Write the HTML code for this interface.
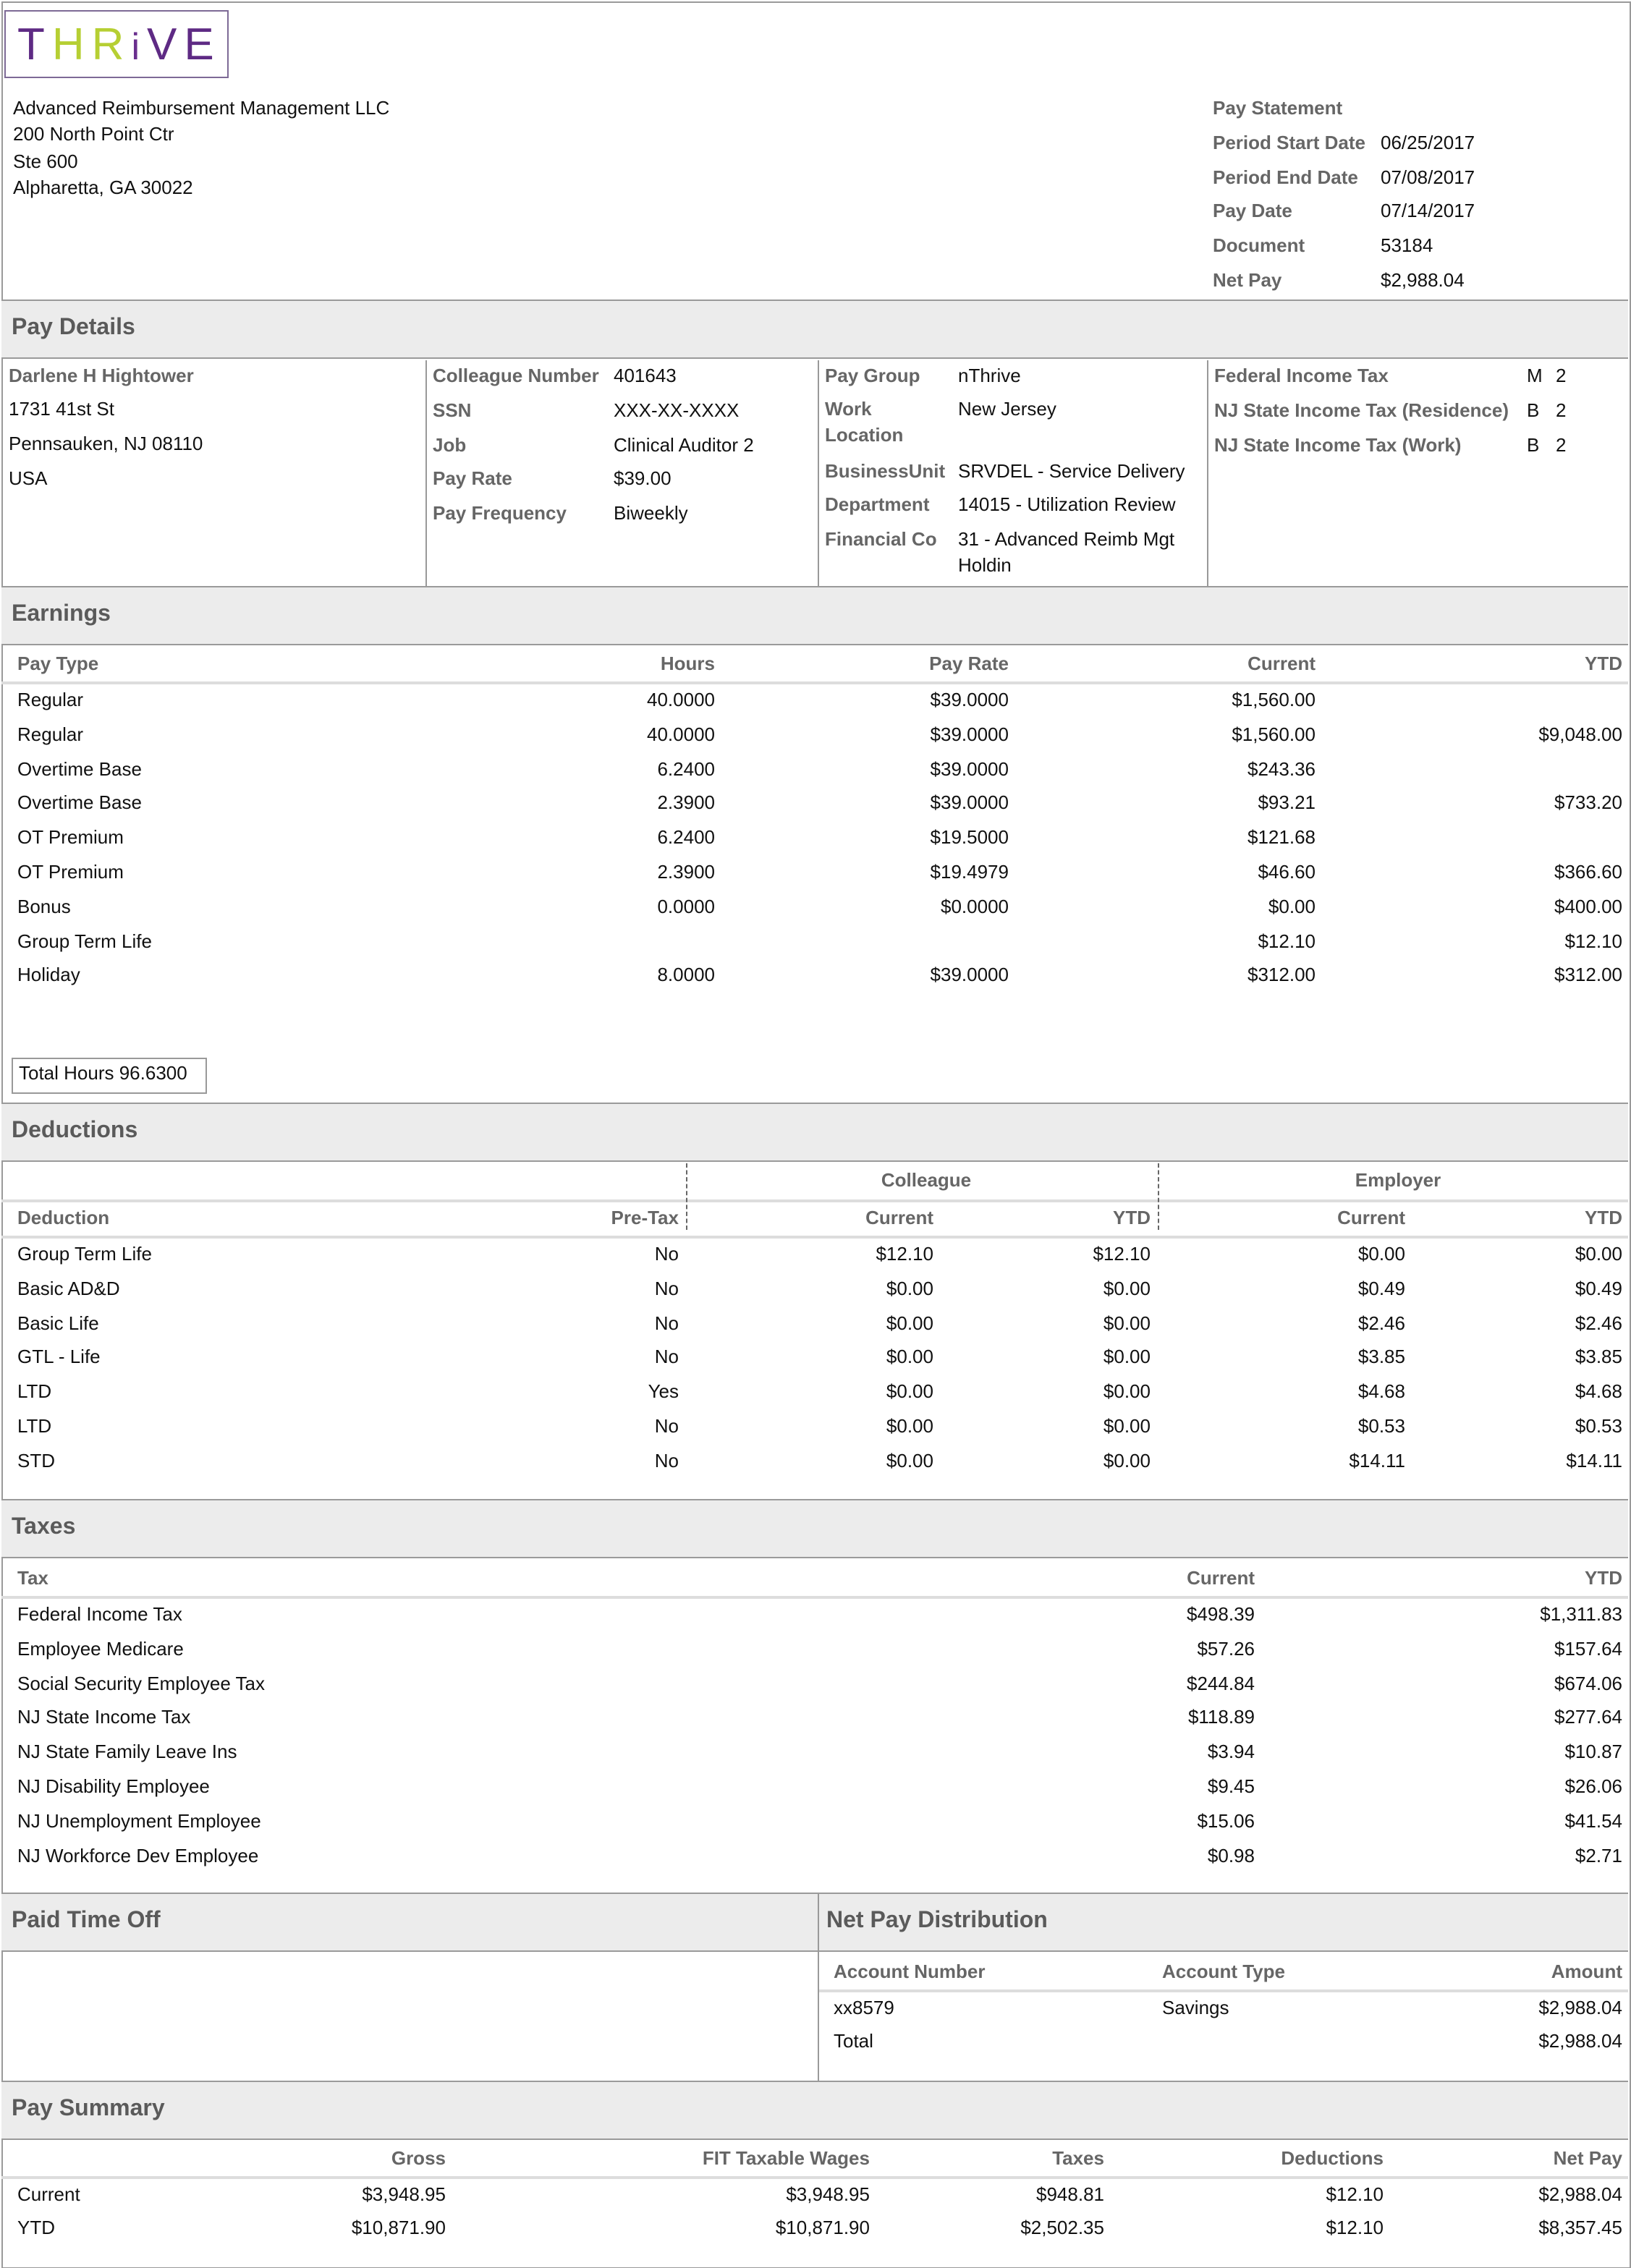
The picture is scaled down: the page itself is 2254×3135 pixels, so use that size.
<!DOCTYPE html>
<html><head><meta charset="utf-8">
<style>
html,body{margin:0;padding:0;background:#fff;}
body{width:2254px;height:3135px;overflow:hidden;position:relative;}
#pg{position:absolute;left:0;top:0;width:1127px;height:1567.5px;transform:scale(2);transform-origin:0 0;font-family:"Liberation Sans Narrow","Liberation Sans",sans-serif;font-size:13px;color:#111;}
.t{position:absolute;white-space:nowrap;line-height:16px;transform:translateY(-8px);}
.r{text-align:right;}
.b{font-weight:bold;color:#666;}
.hd{position:absolute;left:1px;width:1124px;height:39px;background:#ececec;border-top:1.5px solid #9a9a9a;border-bottom:1.5px solid #9a9a9a;}
.hd span{position:absolute;left:7px;top:10px;font-size:16px;font-weight:bold;color:#5a5a5a;}
.ln{position:absolute;height:1.5px;background:#ddd;}
.v{position:absolute;width:1px;background:#999;}
.dv{position:absolute;width:0;border-left:1px dashed #666;}
</style></head><body>
<div id="pg">
<div style="position:absolute;left:0.5px;top:0.5px;width:1124px;height:1565px;border:1px solid #9a9a9a;"></div>
<div style="position:absolute;left:3px;top:7px;width:153px;height:45px;border:1.5px solid #7d6a96;background:#fff;">
<div style="position:absolute;left:8px;top:5px;font-size:31px;letter-spacing:5px;font-family:'Liberation Sans',sans-serif;line-height:36px;"><span style="color:#5e2a84">T</span><span style="color:#b6cf33">HR</span><span style="color:#6a2f8e;font-size:26px">i</span><span style="color:#5e2a84">VE</span></div>
</div>
<div class="hd" style="top:207px"><span>Pay Details</span></div>
<div class="hd" style="top:405px"><span>Earnings</span></div>
<div class="hd" style="top:762px"><span>Deductions</span></div>
<div class="hd" style="top:1036px"><span>Taxes</span></div>
<div class="hd" style="top:1308px"><span>Paid Time Off</span><span style="left:570px">Net Pay Distribution</span></div>
<div class="hd" style="top:1438px"><span>Pay Summary</span></div>
<div class="v" style="left:294px;top:249px;height:156px"></div>
<div class="v" style="left:565px;top:249px;height:156px"></div>
<div class="v" style="left:834px;top:249px;height:156px"></div>
<div class="v" style="left:565px;top:1308px;height:130px;background:#9a9a9a"></div>
<div class="ln" style="left:1px;width:1124px;top:471px"></div>
<div class="ln" style="left:1px;width:1124px;top:829px"></div>
<div class="ln" style="left:1px;width:1124px;top:854px"></div>
<div class="ln" style="left:1px;width:1124px;top:1103px"></div>
<div class="ln" style="left:566px;width:559px;top:1375px"></div>
<div class="ln" style="left:1px;width:1124px;top:1504px"></div>
<div class="dv" style="left:474px;top:804px;height:46px"></div>
<div class="dv" style="left:800px;top:804px;height:46px"></div>
<div style="position:absolute;left:8px;top:731px;width:133px;height:23px;border:1px solid #999;"></div>
</div>
<script>
var pg=document.getElementById('pg');
function t(x,y,s,cls,name){
 var e=document.createElement('div');
 e.className='t '+(cls||'');
 e.textContent=s;
 e.style.top=y+'px';
 if((cls||'').indexOf('r')>=0){e.style.right=(1127-x)+'px';}else{e.style.left=x+'px';}
 
 
 pg.appendChild(e);return e;
}
// header
var company=["Advanced Reimbursement Management LLC","200 North Point Ctr","Ste 600","Alpharetta, GA 30022"];
var companyY=[75,93,112,130];
company.forEach(function(s,i){t(9,companyY[i],s,'','company-address-line');});
var stmtLabels=["Pay Statement","Period Start Date","Period End Date","Pay Date","Document","Net Pay"];
var stmtValues=["","06/25/2017","07/08/2017","07/14/2017","53184","$2,988.04"];
stmtLabels.forEach(function(s,i){var y=75+i*23.8;t(838,y,s,'b','statement-label');if(stmtValues[i])t(954,y,stmtValues[i],'','statement-value');});
// pay details
var emp=["1731 41st St","Pennsauken, NJ 08110","USA"];
t(6,260,"Darlene H Hightower",'b','employee-name');
emp.forEach(function(s,i){t(6,283+i*23.8,s,'','employee-address');});
var c2l=["Colleague Number","SSN","Job","Pay Rate","Pay Frequency"];
var c2v=["401643","XXX-XX-XXXX","Clinical Auditor 2","$39.00","Biweekly"];
c2l.forEach(function(s,i){t(299,260+i*23.8,s,'b','detail-label');t(424,260+i*23.8,c2v[i],'','detail-value');});
var c3=[[260,"Pay Group","nThrive"],[283,"Work",""],[301,"Location",""],[326,"BusinessUnit","SRVDEL - Service Delivery"],[349,"Department","14015 - Utilization Review"],[373,"Financial Co","31 - Advanced Reimb Mgt"]];
c3.forEach(function(r){t(570,r[0],r[1],'b','detail-label');if(r[2])t(662,r[0],r[2],'','detail-value');});
t(662,283,"New Jersey",'','detail-value');
t(662,391,"Holdin",'','detail-value');
var taxL=["Federal Income Tax","NJ State Income Tax (Residence)","NJ  State Income Tax (Work)"];
var taxS=["M","B","B"];
taxL.forEach(function(s,i){var y=260+i*23.8;t(839,y,s,'b','tax-status-label');t(1055,y,taxS[i],'','filing-status');t(1075,y,"2",'','allowances');});
// earnings
var earnCols=[[12,"Pay Type",''],[494,"Hours",'r'],[697,"Pay Rate",'r'],[909,"Current",'r'],[1121,"YTD",'r']];
earnCols.forEach(function(c){t(c[0],459,c[1],'b '+c[2],'earnings-column-header');});
var earnTypes=["Regular","Regular","Overtime Base","Overtime Base","OT Premium","OT Premium","Bonus","Group Term Life","Holiday"];
var earnHours=["40.0000","40.0000","6.2400","2.3900","6.2400","2.3900","0.0000","","8.0000"];
var earnRates=["$39.0000","$39.0000","$39.0000","$39.0000","$19.5000","$19.4979","$0.0000","","$39.0000"];
var earnCurrent=["$1,560.00","$1,560.00","$243.36","$93.21","$121.68","$46.60","$0.00","$12.10","$312.00"];
var earnYtd=["","$9,048.00","","$733.20","","$366.60","$400.00","$12.10","$312.00"];
earnTypes.forEach(function(s,i){var y=484+i*23.8;
 t(12,y,s,'','earning-type');
 if(earnHours[i])t(494,y,earnHours[i],'r','earning-hours');
 if(earnRates[i])t(697,y,earnRates[i],'r','earning-rate');
 t(909,y,earnCurrent[i],'r','earning-current');
 if(earnYtd[i])t(1121,y,earnYtd[i],'r','earning-ytd');});
t(13,742,"Total Hours  96.6300",'','total-hours');
// deductions
t(640,816,"Colleague",'b','colleague-group');
pg.lastChild.style.transform='translate(-50%,-8px)';
t(966,816,"Employer",'b','employer-group');
pg.lastChild.style.transform='translate(-50%,-8px)';
var dedCols=[[12,"Deduction",''],[469,"Pre-Tax",'r'],[645,"Current",'r'],[795,"YTD",'r'],[971,"Current",'r'],[1121,"YTD",'r']];
dedCols.forEach(function(c){t(c[0],842,c[1],'b '+c[2],'deduction-column-header');});
var dedNames=["Group Term Life","Basic AD&D","Basic Life","GTL - Life","LTD","LTD","STD"];
var dedPre=["No","No","No","No","Yes","No","No"];
var dedCur=["$12.10","$0.00","$0.00","$0.00","$0.00","$0.00","$0.00"];
var dedYtd=["$12.10","$0.00","$0.00","$0.00","$0.00","$0.00","$0.00"];
var empCur=["$0.00","$0.49","$2.46","$3.85","$4.68","$0.53","$14.11"];
var empYtd=["$0.00","$0.49","$2.46","$3.85","$4.68","$0.53","$14.11"];
dedNames.forEach(function(s,i){var y=867+i*23.8;
 t(12,y,s,'','deduction-name');t(469,y,dedPre[i],'r','pre-tax');
 t(645,y,dedCur[i],'r','colleague-current');t(795,y,dedYtd[i],'r','colleague-ytd');
 t(971,y,empCur[i],'r','employer-current');t(1121,y,empYtd[i],'r','employer-ytd');});
// taxes
t(12,1091,"Tax",'b','tax-column-header');t(867,1091,"Current",'b r','tax-column-header');t(1121,1091,"YTD",'b r','tax-column-header');
var taxNames=["Federal Income Tax","Employee Medicare","Social Security Employee Tax","NJ State Income Tax","NJ State Family Leave Ins","NJ Disability Employee","NJ Unemployment Employee","NJ Workforce Dev Employee"];
var taxCur=["$498.39","$57.26","$244.84","$118.89","$3.94","$9.45","$15.06","$0.98"];
var taxYtd=["$1,311.83","$157.64","$674.06","$277.64","$10.87","$26.06","$41.54","$2.71"];
taxNames.forEach(function(s,i){var y=1116+i*23.8;t(12,y,s,'','tax-name');t(867,y,taxCur[i],'r','tax-current');t(1121,y,taxYtd[i],'r','tax-ytd');});
// net pay distribution
t(576,1363,"Account Number",'b','npd-column-header');t(803,1363,"Account Type",'b','npd-column-header');t(1121,1363,"Amount",'b r','npd-column-header');
t(576,1388,"xx8579",'','account-number');t(803,1388,"Savings",'','account-type');t(1121,1388,"$2,988.04",'r','amount');
t(576,1411,"Total",'','total-label');t(1121,1411,"$2,988.04",'r','total-amount');
// pay summary
var sumCols=["Gross","FIT Taxable Wages","Taxes","Deductions","Net Pay"];
var sumX=[308,601,763,956,1121];
var sumRows=["Current","YTD"];
var sumCurrent=["$3,948.95","$3,948.95","$948.81","$12.10","$2,988.04"];
var sumYtd=["$10,871.90","$10,871.90","$2,502.35","$12.10","$8,357.45"];
sumCols.forEach(function(s,i){t(sumX[i],1492,s,'b r','summary-column-header');t(sumX[i],1517,sumCurrent[i],'r','summary-current');t(sumX[i],1540,sumYtd[i],'r','summary-ytd');});
sumRows.forEach(function(s,i){t(12,1517+i*23,s,'','summary-row-label');});
</script>
</body></html>
